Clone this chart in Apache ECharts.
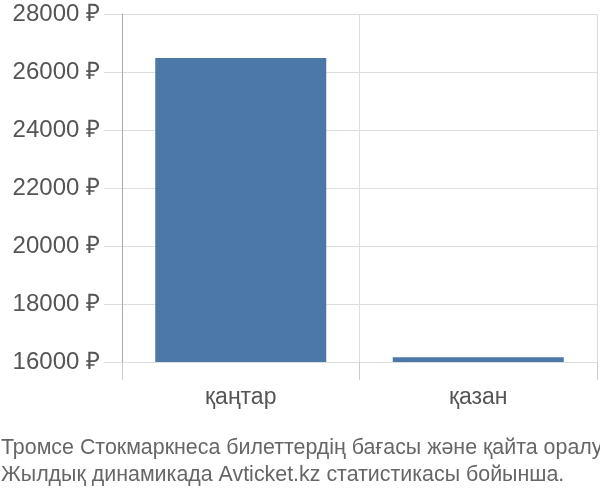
<!DOCTYPE html>
<html>
<head>
<meta charset="utf-8">
<script src="https://cdn.jsdelivr.net/npm/echarts@6/dist/echarts.min.js"></script>
<style>
  html, body { margin: 0; padding: 0; background: #fff; }
  #chart { width: 600px; height: 500px; }
</style>
</head>
<body>
<div id="chart"></div>
<script>
// months and average ticket prices (rub)
var months = ['қаңтар', 'қазан'];
var prices = [26480, 16160];
var titleLines = [
  'Тромсе Стокмаркнеса билеттердің бағасы және қайта оралу',
  'Жылдық динамикада Avticket.kz статистикасы бойынша.'
];

var chart = echarts.init(document.getElementById('chart'));

var options = {
  animation: false,
  textStyle: { fontFamily: 'Liberation Sans' },
  title: {
    text: titleLines.join('\n'),
    left: 1,
    top: 435,
    padding: 0,
    textStyle: {
      color: '#666',
      fontSize: 21.4,
      fontWeight: 'normal',
      lineHeight: 27,
      fontFamily: 'Liberation Sans'
    }
  },
  grid: { left: 122, right: 3, top: 14, bottom: 138 },
  xAxis: {
    type: 'category',
    data: months,
    axisLine: { show: false },
    axisTick: {
      show: true,
      length: 18,
      alignWithLabel: false,
      lineStyle: { color: '#ccc' }
    },
    splitLine: { show: true, lineStyle: { color: '#ddd' } },
    axisLabel: { color: '#555', fontSize: 23, margin: 24 }
  },
  yAxis: {
    type: 'value',
    min: 16000,
    max: 28000,
    interval: 2000,
    axisLine: { show: true, lineStyle: { color: '#aaa' } },
    axisTick: { show: true, length: 18, lineStyle: { color: '#ddd' } },
    splitLine: { show: true, lineStyle: { color: '#ddd' } },
    axisLabel: {
      color: '#555',
      fontSize: 24,
      margin: 22,
      formatter: function (v) { return v + ' ₽'; }
    }
  },
  series: [{
    type: 'bar',
    data: prices,
    barWidth: '72%',
    itemStyle: { color: '#4c78a8' }
  }]
};

chart.setOption(options);
</script>
</body>
</html>
